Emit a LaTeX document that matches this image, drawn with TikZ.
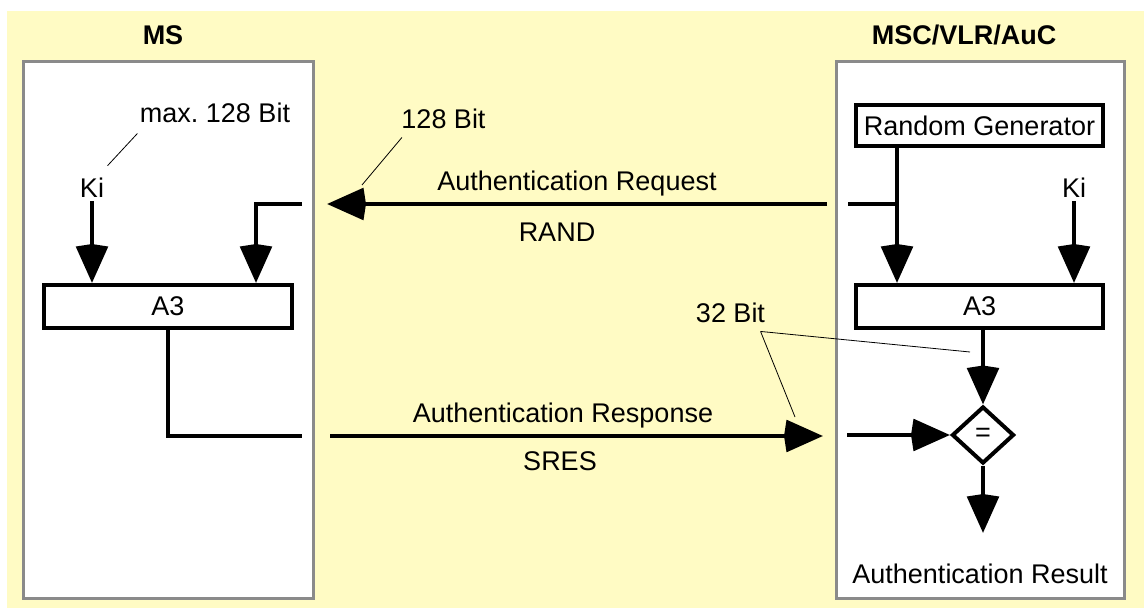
\documentclass[tikz,border=0pt]{standalone}
\usepackage{fontspec}
\setmainfont{Liberation Sans}
\usetikzlibrary{arrows.meta,shapes.geometric}
\definecolor{paleyellow}{RGB}{255,251,196}
\definecolor{framegray}{RGB}{138,138,138}
\frenchspacing

\begin{document}
\begin{tikzpicture}[x=1pt,y=-1pt,font=\fontsize{27}{32}\selectfont,
  unit/.style={draw=framegray,line width=3pt,fill=white},
  block/.style={draw,line width=4pt,fill=white,minimum height=43pt,inner sep=0pt},
  wire/.style={line width=4.5pt},
  flow/.style={wire,-{Stealth[length=36pt,width=31pt,inset=-3pt]}},
  lead/.style={line width=0.8pt},
  title/.style={font=\fontsize{27}{32}\selectfont\bfseries}]
\useasboundingbox (0,0) rectangle (1148,609);
\fill[paleyellow] (7,11) rectangle (1144,608);
\draw[unit] (23,62) rectangle (313,598); \draw[unit] (836,62) rectangle (1124,598);
\node[title](msT) at (163,35) {MS}; \node[title](mscT) at (964,35) {MSC/VLR/AuC};
\node[block,minimum width=248pt](a3L) at (168,306.5) {A3};
\node[block,minimum width=247pt](a3R) at (979.5,306.5) {A3};
\node[block,minimum width=247pt,minimum height=41pt](rng) at (979.5,125.5) {Random Generator};
\node[draw,diamond,line width=4pt,fill=white,inner sep=0pt,minimum width=62pt,minimum height=57pt](cmp) at (983,435) {=};
\node(kiL) at (92,188) {Ki}; \node(kiR) at (1074,188) {Ki};
\node(maxbit) at (215,113) {max. 128 Bit}; \node(bit128) at (443.5,119) {128 Bit};
\node(bit32) at (730.5,313) {32 Bit};
\node(req) at (577,184) {Authentication Request}; \node(rand) at (557,232) {RAND};
\node(resp) at (563,416) {Authentication Response}; \node(sres) at (560,461) {SRES};
\node(result) at (980,574) {Authentication Result};
\coordinate(rqR) at (848,204); \coordinate(rqA) at (827,204); \coordinate(rqB) at (327,204); \coordinate(rqL) at (302,204);
\coordinate(rsL) at (302,436); \coordinate(rsA) at (330,436); \coordinate(rsB) at (823,436); \coordinate(rsR) at (847,435);
\coordinate(tap) at (897,204); \coordinate(resOut) at (983,533);
\coordinate(rqHead) at (362,185); \coordinate(rsHead) at (795,417); \coordinate(a3Out) at (970,352);
\draw[flow] (kiL.south) -- (kiL.south |- a3L.north);
\draw[flow] (rqL) -| ([xshift=88pt]a3L.north);
\draw[wire] (a3L.south) |- (rsL);
\draw[flow] (rqA) -- (rqB); \draw[flow] (rsA) -- (rsB);
\draw[wire] (rqR) -- (tap);
\draw[flow] (rng.south -| tap) -- (a3R.north -| tap);
\draw[flow] (kiR.south) -- (kiR.south |- a3R.north);
\draw[flow] (a3R.south -| cmp.north) -- (cmp.north);
\draw[flow] (rsR) -- (cmp.west);
\draw[flow] (cmp.south) -- (resOut);
\draw[lead] ([shift={(1,7)}]maxbit.south west) -- ([shift={(0,-9)}]kiL.north east);
\draw[lead] ([shift={(4,5)}]bit128.south west) -- (rqHead);
\draw[lead] ([shift={(-8,5)}]bit32.south east) -- (rsHead);
\draw[lead] ([shift={(-8,5)}]bit32.south east) -- (a3Out);
\end{tikzpicture}
\end{document}
